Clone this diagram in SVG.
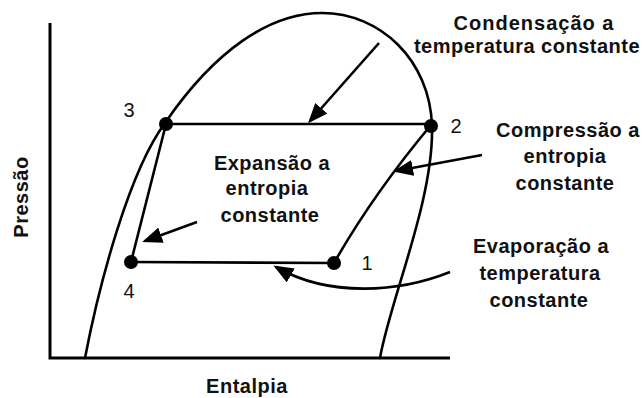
<svg xmlns="http://www.w3.org/2000/svg" width="644" height="398" viewBox="0 0 644 398">
<style>
.ln{fill:none;stroke:#000;stroke-width:2.6;stroke-linecap:round}
.ax{fill:none;stroke:#000;stroke-width:3}
.ar{fill:none;stroke:#000;stroke-width:2.6;marker-end:url(#ah)}
.lb{font-family:"Liberation Sans",Arial,sans-serif;font-size:20px;font-weight:bold;fill:#111;text-anchor:middle;letter-spacing:0.5px}
.num{font-family:"Liberation Sans",Arial,sans-serif;font-size:20px;fill:#111;text-anchor:middle}
.pt{fill:#000}
</style>
<defs>
<marker id="ah" viewBox="0 0 20 16" refX="17" refY="8" markerWidth="20" markerHeight="16" markerUnits="userSpaceOnUse" orient="auto">
<path d="M0,0 L20,8 L0,16 z" fill="#000"/>
</marker>
</defs>
<g id="axes">
<path class="ax" d="M50,23 L50,358 L450,358"/>
<text class="lb" x="247" y="393">Entalpia</text>
<text class="lb" transform="translate(28,197) rotate(-90)">Pressão</text>
</g>
<g id="dome">
<path class="ln" d="M85,358 C100,280 130,170 165,123 C215,50 270,13 322,13 C380,13 430,60 432,126 C434,200 390,300 380,358"/>
</g>
<g id="connectors">
<path class="ln" d="M166,124 L431,124"/>
<path class="ln" d="M131,262 L334,263"/>
<path class="ln" d="M166,124 L131,262"/>
<path class="ln" d="M334,263 Q373,194.5 431,125"/>
<path class="ar" d="M379,43 L310,121"/>
<path class="ar" d="M482,155 L396,171"/>
<path class="ar" d="M197,222 L145,241"/>
<path class="ar" d="M450,272 C400,292 330,298 276,267"/>
</g>
<g id="p3"><circle class="pt" cx="166" cy="124" r="7"/><text class="num" x="129" y="117">3</text></g>
<g id="p2"><circle class="pt" cx="431" cy="126" r="7"/><text class="num" x="456" y="133">2</text></g>
<g id="p4"><circle class="pt" cx="131" cy="262" r="7"/><text class="num" x="129" y="298">4</text></g>
<g id="p1"><circle class="pt" cx="334" cy="263" r="7"/><text class="num" x="367" y="270">1</text></g>
<g id="condensacao">
<text class="lb" x="534" y="30" style="letter-spacing:1px">Condensação a</text>
<text class="lb" x="527" y="53">temperatura constante</text>
</g>
<g id="compressao">
<text class="lb" x="568" y="137">Compressão a</text>
<text class="lb" x="565" y="163">entropia</text>
<text class="lb" x="565" y="190">constante</text>
</g>
<g id="evaporacao">
<text class="lb" x="541" y="253">Evaporação a</text>
<text class="lb" x="540" y="280">temperatura</text>
<text class="lb" x="539" y="307">constante</text>
</g>
<g id="expansao">
<text class="lb" x="272" y="170">Expansão a</text>
<text class="lb" x="267" y="195">entropia</text>
<text class="lb" x="270" y="222">constante</text>
</g>
</svg>
